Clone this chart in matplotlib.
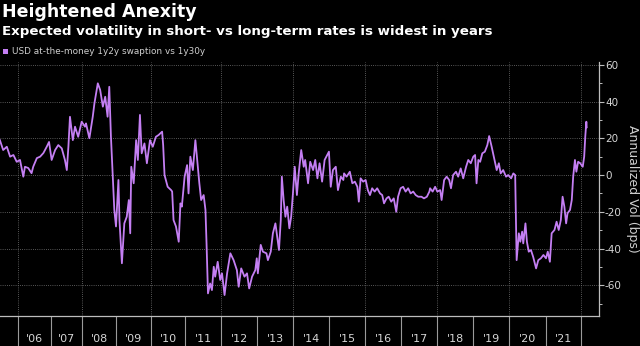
import numpy as np
import matplotlib
matplotlib.use("Agg")
import matplotlib.pyplot as plt
from matplotlib.patches import Rectangle

plt.rcParams['axes.unicode_minus'] = False
plt.rcParams['font.family'] = ['DejaVu Sans']

# ---------------- data ----------------
dates = [
    2005.46, 2005.56, 2005.67, 2005.77, 2005.87, 2005.97, 2006.07, 2006.17, 2006.22, 2006.32,
    2006.42, 2006.47, 2006.58, 2006.68, 2006.78, 2006.88, 2006.95, 2007.03, 2007.14, 2007.24,
    2007.35, 2007.45, 2007.51, 2007.56, 2007.61, 2007.70, 2007.77, 2007.87, 2007.98, 2008.08,
    2008.11, 2008.21, 2008.31, 2008.36, 2008.46, 2008.53, 2008.61, 2008.68, 2008.75, 2008.80,
    2008.85, 2008.90, 2008.95, 2009.00, 2009.07, 2009.10, 2009.17, 2009.24, 2009.31, 2009.37,
    2009.41, 2009.44, 2009.51, 2009.58, 2009.63, 2009.69, 2009.74, 2009.82, 2009.89, 2009.98,
    2010.06, 2010.15, 2010.23, 2010.33, 2010.36, 2010.40, 2010.49, 2010.59, 2010.62, 2010.66,
    2010.73, 2010.81, 2010.86, 2010.90, 2010.98, 2011.05, 2011.09, 2011.14, 2011.21, 2011.28,
    2011.33, 2011.39, 2011.44, 2011.51, 2011.56, 2011.59, 2011.63, 2011.69, 2011.74, 2011.79,
    2011.83, 2011.90, 2011.97, 2012.02, 2012.09, 2012.16, 2012.25, 2012.34, 2012.43, 2012.48,
    2012.55, 2012.64, 2012.71, 2012.77, 2012.85, 2012.94, 2012.98, 2013.01, 2013.09, 2013.15,
    2013.25, 2013.29, 2013.37, 2013.43, 2013.50, 2013.55, 2013.60, 2013.65, 2013.68, 2013.73,
    2013.78, 2013.83, 2013.89, 2013.94, 2013.99, 2014.04, 2014.10, 2014.15, 2014.22, 2014.29,
    2014.33, 2014.41, 2014.47, 2014.55, 2014.61, 2014.67, 2014.73, 2014.80, 2014.87, 2014.94,
    2014.99, 2015.04, 2015.10, 2015.18, 2015.24, 2015.32, 2015.39, 2015.41, 2015.48, 2015.57,
    2015.64, 2015.71, 2015.78, 2015.82, 2015.87, 2015.94, 2016.01, 2016.07, 2016.13, 2016.19,
    2016.26, 2016.33, 2016.41, 2016.47, 2016.52, 2016.59, 2016.65, 2016.72, 2016.79, 2016.86,
    2016.91, 2016.98, 2017.05, 2017.12, 2017.19, 2017.26, 2017.33, 2017.40, 2017.47, 2017.56,
    2017.63, 2017.71, 2017.78, 2017.80, 2017.87, 2017.94, 2018.00, 2018.08, 2018.12, 2018.19,
    2018.26, 2018.33, 2018.38, 2018.44, 2018.52, 2018.58, 2018.65, 2018.72, 2018.80, 2018.86,
    2018.93, 2019.00, 2019.05, 2019.09, 2019.14, 2019.19, 2019.25, 2019.32, 2019.39, 2019.44,
    2019.51, 2019.57, 2019.65, 2019.71, 2019.76, 2019.83, 2019.91, 2019.97, 2020.05, 2020.11,
    2020.16, 2020.20, 2020.26, 2020.30, 2020.35, 2020.38, 2020.44, 2020.48, 2020.53, 2020.59,
    2020.65, 2020.73, 2020.79, 2020.86, 2020.93, 2021.00, 2021.05, 2021.11, 2021.16, 2021.24,
    2021.30, 2021.36, 2021.42, 2021.47, 2021.52, 2021.57, 2021.61, 2021.68, 2021.73, 2021.77,
    2021.82, 2021.86, 2021.91, 2021.97, 2022.04, 2022.08, 2022.11, 2022.14, 2022.15,
]
vol_spread = [
    19.0, 13.6, 15.4, 10.0, 10.9, 7.2, 8.2, -0.9, 4.5, 3.8,
    1.0, 4.5, 9.2, 10.0, 12.0, 15.4, 18.0, 8.2, 13.6, 16.3,
    14.5, 8.2, 2.7, 15.4, 31.7, 19.0, 26.3, 20.8, 29.0, 26.3,
    28.1, 20.0, 31.7, 39.0, 49.9, 46.3, 37.2, 42.6, 31.7, 48.0,
    20.8, 0.9, -19.0, -28.0, -2.7, -24.5, -48.0, -26.3, -22.7, -13.6,
    -31.7, 4.5, -4.5, 19.0, 8.2, 32.7, 11.8, 17.2, 6.4, 19.0,
    15.4, 20.8, 21.8, 23.6, 16.3, 0.0, -6.4, -8.2, -9.0, -24.5,
    -28.0, -36.3, -15.4, -17.2, -0.9, 5.4, -10.0, 10.0, 2.7, 19.0,
    8.2, -4.5, -13.6, -10.9, -19.0, -37.2, -64.4, -59.0, -62.6, -49.9,
    -55.3, -47.2, -57.1, -53.5, -65.3, -53.5, -42.6, -46.3, -51.7, -60.8,
    -50.8, -55.3, -53.5, -61.7, -55.3, -51.7, -45.3, -53.5, -38.0, -41.7,
    -42.6, -46.3, -41.7, -31.7, -26.3, -33.6, -40.8, -24.5, -0.9, -13.6,
    -22.7, -17.2, -29.0, -22.7, -10.0, 4.5, -10.9, 0.9, 13.6, 4.5,
    8.2, -4.5, 7.2, 2.7, 8.2, -1.8, 6.4, -3.6, 8.2, 10.9,
    12.7, -6.4, 2.7, 4.5, -8.2, -0.9, -2.7, 0.9, -0.9, 1.8,
    -4.5, -3.6, -6.4, -14.5, -1.8, -3.6, -2.7, -8.2, -10.9, -7.2,
    -9.0, -7.2, -10.0, -10.9, -15.4, -12.7, -11.8, -14.5, -12.7, -20.0,
    -11.8, -7.2, -6.4, -9.0, -7.2, -10.0, -9.0, -10.9, -11.8, -11.8,
    -12.7, -11.8, -9.0, -7.2, -9.0, -6.4, -9.0, -8.2, -13.6, -2.7,
    -0.9, -2.7, -7.2, 0.0, 1.8, -0.9, 3.6, -1.8, 4.5, 8.2,
    6.4, 10.0, 10.9, -4.5, 8.2, 7.2, 11.8, 12.7, 16.3, 21.2,
    15.4, 10.0, 2.7, 6.4, 0.9, 2.7, -0.9, 0.0, -1.8, 0.9,
    0.0, -46.3, -31.7, -36.3, -30.8, -37.2, -26.3, -36.3, -41.7, -40.8,
    -44.5, -50.8, -46.3, -45.3, -43.5, -45.3, -41.7, -47.2, -31.7, -29.9,
    -25.4, -29.9, -24.5, -11.8, -17.2, -26.3, -20.8, -19.0, -13.6, -0.9,
    8.2, 1.8, 7.2, 6.4, 4.5, 10.0, 20.8, 29.0, 26.0,
]
series_label = "USD at-the-money 1y2y swaption vs 1y30y"
years = list(range(2006, 2023))
year_labels = ["'06", "'07", "'08", "'09", "'10", "'11", "'12", "'13",
               "'14", "'15", "'16", "'17", "'18", "'19", "'20", "'21"]
y_ticks = [-60, -40, -20, 0, 20, 40, 60]

# ---------------- x scale (Bloomberg spacing is not uniform in time) ----------------
SCALE_YEARS = np.arange(2004, 2024, dtype=float)
SCALE_POS = np.array([-48.3, -15.3, 17.7, 50.7, 82.3, 116.0, 150.7, 185.3, 221.3, 257.5,
                      293.3, 329.3, 365.3, 401.3, 437.3, 473.3, 509.3, 546.0, 581.3, 617.3])

def fwd(x):
    x = np.asarray(x, dtype=float)
    out = np.interp(x, SCALE_YEARS, SCALE_POS)
    out = np.where(x < SCALE_YEARS[0], SCALE_POS[0] + (x - SCALE_YEARS[0]) * 33.0, out)
    out = np.where(x > SCALE_YEARS[-1], SCALE_POS[-1] + (x - SCALE_YEARS[-1]) * 36.0, out)
    return out

def inv(p):
    p = np.asarray(p, dtype=float)
    out = np.interp(p, SCALE_POS, SCALE_YEARS)
    out = np.where(p < SCALE_POS[0], SCALE_YEARS[0] + (p - SCALE_POS[0]) / 33.0, out)
    out = np.where(p > SCALE_POS[-1], SCALE_YEARS[-1] + (p - SCALE_POS[-1]) / 36.0, out)
    return out

# ---------------- figure ----------------
W, H = 640, 346
fig = plt.figure(figsize=(W / 100, H / 100), dpi=100, facecolor='black')
ax_top, ax_bot, ax_right = 62, 316, 598.7
ax = fig.add_axes([0, 1 - ax_bot / H, ax_right / W, (ax_bot - ax_top) / H])
ax.set_facecolor('black')
ax.set_xscale('function', functions=(fwd, inv))

line_color = '#c47ff3'
ax.plot(dates, vol_spread, color=line_color, lw=1.3, solid_joinstyle='round', zorder=3)

ax.set_xlim(float(inv(0.0)), float(inv(ax_right)))
ax.set_ylim(-76.7, 61.5)

grid_kw = dict(color='#747474', lw=0.6, ls=(0, (1, 1.6)), zorder=1)
for yv in y_ticks:
    ax.axhline(yv, **grid_kw)
for yr in years[::2]:
    ax.axvline(yr, **grid_kw)

# x axis: year separators (major) and centered year labels (minor)
ax.set_xticks(years)
ax.set_xticklabels([''] * len(years))
ax.set_xticks([y + 0.5 for y in years[:-1]], minor=True)
ax.set_xticklabels(year_labels, minor=True)
ax.tick_params(axis='x', which='major', direction='out', length=22, width=0.8, color='#9a9a9a')
ax.tick_params(axis='x', which='minor', length=0, pad=13, labelsize=8, labelcolor='#d6d6d6')

# y axis on the right
ax.yaxis.tick_right()
ax.set_yticks(y_ticks)
ax.set_yticklabels([str(v) for v in y_ticks])
ax.set_yticks(np.arange(-70, 60, 20), minor=True)
ax.tick_params(axis='y', which='major', direction='out', length=3.5, width=0.8,
               color='#bdbdbd', pad=1, labelsize=7.5, labelcolor='#d6d6d6')
ax.tick_params(axis='y', which='minor', direction='out', length=2, width=0.7, color='#bdbdbd')

for side in ('top', 'left'):
    ax.spines[side].set_visible(False)
for side in ('bottom', 'right'):
    ax.spines[side].set_color('#bdbdbd')
    ax.spines[side].set_linewidth(0.9)

# ---------------- texts ----------------
fig.text(2 / W, 1 - 17 / H, "Heightened Anexity", color='white', fontsize=12.5,
         fontweight='bold', va='baseline', ha='left')
fig.text(2 / W, 1 - 35.5 / H, "Expected volatility in short- vs long-term rates is widest in years",
         color='white', fontsize=9.6, fontweight='bold', va='baseline', ha='left')
fig.patches.append(Rectangle((3 / W, 1 - 54 / H), 5 / W, 5 / H, transform=fig.transFigure,
                             facecolor=line_color, edgecolor='none'))
fig.text(12 / W, 1 - 54.5 / H, series_label, color='#cfcfcf', fontsize=6.4,
         va='baseline', ha='left')
fig.text(632 / W, 1 - 189 / H, "Annualized Vol (bps)", color='#cfcfcf', fontsize=9,
         rotation=270, va='center', ha='center')

fig.savefig('out.png', dpi=100, facecolor='black')
